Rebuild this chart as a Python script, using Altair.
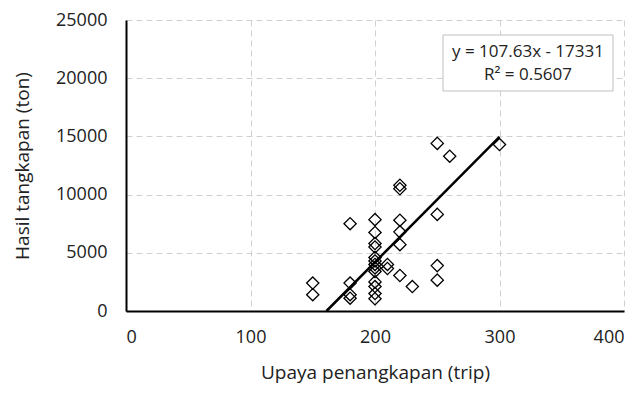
import altair as alt
import pandas as pd

effort = [150, 150, 180, 180, 180, 180,
          200, 200, 200, 200, 200, 200, 200, 200, 200, 200, 200, 200, 200,
          210, 210, 220, 220, 220, 220, 220, 220, 230,
          250, 250, 250, 250, 260, 300]
catch = [2400, 1400, 7500, 2400, 1400, 1100,
         7850, 6750, 5800, 5500, 4600, 4300, 4000, 3700, 3400, 2500, 2100, 1500, 1050,
         4000, 3650, 10800, 10500, 7800, 6800, 5700, 3050, 2100,
         14400, 8300, 3900, 2650, 13300, 14300]

slope = 107.63
intercept = -17331
trend_x = [-intercept / slope, 300]
trend_y = [slope * v + intercept for v in trend_x]

eq_lines = ["y = 107.63x - 17331", "R² = 0.5607"]

FONT = "Open Sans"
pts = pd.DataFrame({"x": effort, "y": catch})
trend = pd.DataFrame({"x": trend_x, "y": trend_y})

xs = alt.Scale(domain=[0, 400], nice=False)
ys = alt.Scale(domain=[0, 25000], nice=False)

xax = alt.Axis(values=[0, 100, 200, 300, 400], title="Upaya penangkapan (trip)",
               format="d", ticks=False, tickSize=0, labelPadding=17, titlePadding=17,
               domainColor="black", domainWidth=2,
               grid=True, gridColor="#d0d0d0", gridDash=[6, 4], gridWidth=1)
yax = alt.Axis(values=[0, 5000, 10000, 15000, 20000, 25000], title="Hasil tangkapan (ton)",
               format="d", ticks=False, tickSize=0, labelPadding=19, titlePadding=23,
               domainColor="black", domainWidth=2,
               grid=True, gridColor="#d0d0d0", gridDash=[6, 4], gridWidth=1)

points = alt.Chart(pts).mark_point(shape="diamond", size=150, filled=False,
                                   color="black", strokeWidth=1.3, opacity=1).encode(
    x=alt.X("x:Q", scale=xs, axis=xax),
    y=alt.Y("y:Q", scale=ys, axis=yax),
)

line = alt.Chart(trend).mark_line(color="black", strokeWidth=2.5).encode(
    x=alt.X("x:Q", scale=xs),
    y=alt.Y("y:Q", scale=ys),
)

box = alt.Chart(pd.DataFrame({"a": [0]})).mark_rect(
    fill="white", stroke="#bfbfbf", strokeWidth=1).encode(
    x=alt.value(317), x2=alt.value(487), y=alt.value(15), y2=alt.value(71))

txt1 = alt.Chart(pd.DataFrame({"t": [eq_lines[0]]})).mark_text(
    font=FONT, fontSize=17, color="#222", align="center", baseline="middle").encode(
    text="t:N", x=alt.value(402), y=alt.value(32))
txt2 = alt.Chart(pd.DataFrame({"t": [eq_lines[1]]})).mark_text(
    font=FONT, fontSize=17, color="#222", align="center", baseline="middle").encode(
    text="t:N", x=alt.value(402), y=alt.value(55))

chart = alt.layer(points, line, box, txt1, txt2).properties(
    width=498, height=291,
    autosize=alt.AutoSizeParams(type="none"),
    padding={"left": 118, "top": 12, "right": 9, "bottom": 78},
).configure_view(stroke=None).configure_axis(
    labelFont=FONT, titleFont=FONT, labelFontSize=18, titleFontSize=19,
    labelColor="#222", titleColor="#222", titleFontWeight="normal",
)

chart.save("out.html", embed_options={"renderer": "svg", "actions": False})
